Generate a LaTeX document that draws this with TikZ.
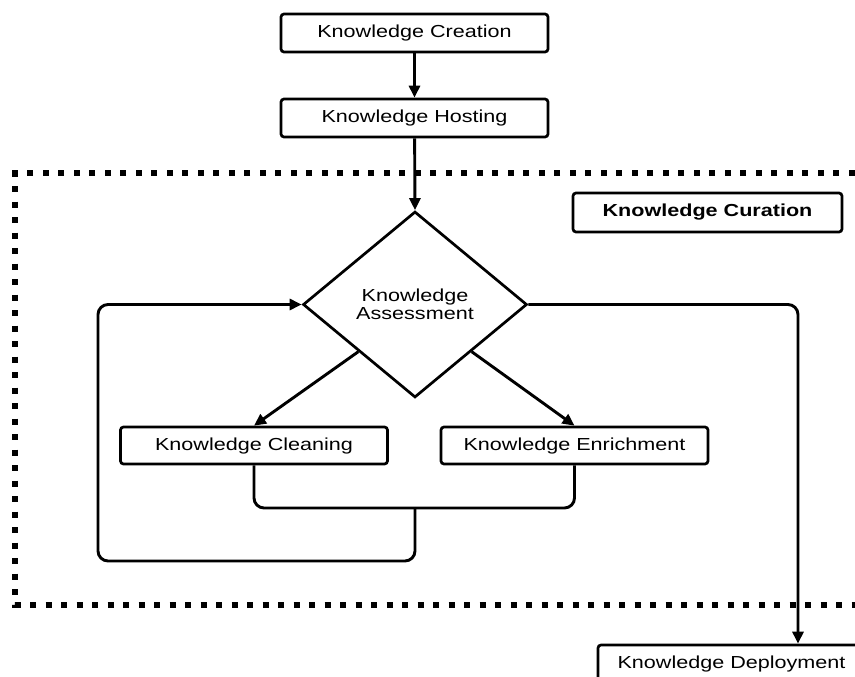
\documentclass[tikz,border=0pt]{standalone}
\usepackage{fontspec}
\newfontfamily\lblfont[FakeStretch=1.24]{Liberation Sans}
\usetikzlibrary{arrows.meta,shapes.geometric,calc}
\begin{document}
\begin{tikzpicture}[x=1pt,y=-1pt,
  lbl/.style={font=\lblfont\fontsize{17.4}{18.5}\selectfont},
  box/.style={lbl,draw,line width=2.7pt,rounded corners=3pt,
    minimum width=267pt,minimum height=38pt,inner sep=0pt},
  decision/.style={lbl,draw,diamond,line width=2.7pt,align=center,
    minimum width=224pt,minimum height=186pt,inner sep=0pt},
  frame/.style={line width=6pt,dash pattern=on 6pt off 9.5pt},
  conn/.style={line width=2.9pt},
  arr/.style={conn,-{Triangle[length=12pt,width=11pt]}}]
  \clip (0,0) rectangle (855,677);

  % stages of the pipeline
  \node[box] (create) at (414.5,33) {Knowledge Creation};
  \node[box] (host) at (414.5,118) {Knowledge Hosting};
  \node[box,font=\lblfont\bfseries\fontsize{17.4}{18.5}\selectfont,
    minimum width=269pt,minimum height=39pt] (curation) at (707.5,212.5) {Knowledge Curation};
  \node[decision] (assess) at (415,304.5) {Knowledge\\Assessment};
  \node[box,minimum height=37pt] (clean) at (254,445.5) {Knowledge Cleaning};
  \node[box,minimum height=37pt] (enrich) at (574.5,445.5) {Knowledge Enrichment};
  \node[box,minimum height=37pt] (deploy) at (731.5,663.5) {Knowledge Deployment};

  % curation region
  \coordinate (ftl) at (15,173);
  \coordinate (fbl) at (15,605);
  \draw[frame] (870,173) -- (ftl) -- (fbl) -- (870,605);

  % main flow
  \draw[arr] (create) -- (host);
  \draw[arr] (host) -- (assess.north);
  \draw[arr] ($(assess.west)!0.5!(assess.south)$) -- (clean.north);
  \draw[arr] ($(assess.east)!0.5!(assess.south)$) -- (enrich.north);
  \draw[arr,rounded corners=10pt] (assess.east) -| ([xshift=66.5pt]deploy.north);

  % feedback loop back to assessment
  \coordinate (join) at (415,508);
  \coordinate (lb) at (98,561);
  \draw[conn,rounded corners=10pt] (clean.south) |- (join) -| (enrich.south);
  \draw[arr,rounded corners=10pt] (join) |- (lb) |- (assess.west);
\end{tikzpicture}
\end{document}
